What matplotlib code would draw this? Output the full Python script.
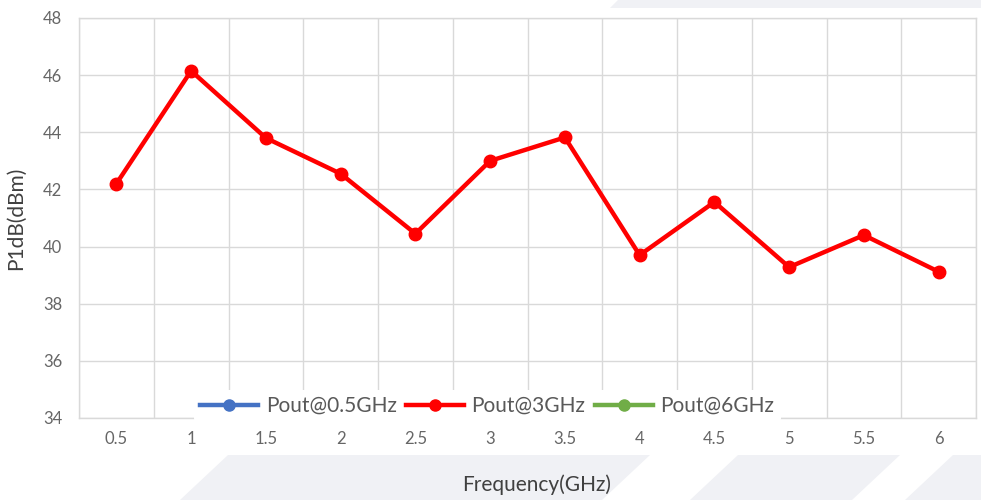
import matplotlib
matplotlib.use("Agg")
import matplotlib.pyplot as plt
from matplotlib.patches import Polygon
from matplotlib.lines import Line2D

# data
freq_labels = ["0.5", "1", "1.5", "2", "2.5", "3", "3.5", "4", "4.5", "5", "5.5", "6"]
pout_3ghz = [42.2, 46.15, 43.8, 42.55, 40.45, 43.0, 43.82, 39.7, 41.56, 39.28, 40.4, 39.12]
series_names = ["Pout@0.5GHz", "Pout@3GHz", "Pout@6GHz"]
series_colors = ["#4472c4", "#ff0000", "#70ad47"]

plt.rcParams['font.family'] = ['Lato', 'DejaVu Sans']

W, H = 981, 500
fig = plt.figure(figsize=(W / 100, H / 100), dpi=100)
fig.patch.set_facecolor("white")

# faint watermark stripes in the background (pixel coords -> figure coords)
def px_poly(pts, color="#f0f1f5"):
    xy = [(x / W, 1 - y / H) for x, y in pts]
    fig.patches.append(Polygon(xy, closed=True, transform=fig.transFigure,
                               facecolor=color, edgecolor="none", zorder=-5))

px_poly([(180, 500), (228, 455), (650, 455), (602, 500)])
px_poly([(690, 500), (738, 455), (900, 455), (852, 500)])
px_poly([(905, 500), (953, 455), (981, 455), (981, 500)])
px_poly([(610, 8), (618, 0), (981, 0), (981, 8)])

ax = fig.add_axes([79 / W, 1 - 418 / H, 897 / W, 400 / H])
ax.set_facecolor("white")

x = list(range(len(freq_labels)))
ax.plot(x, pout_3ghz, color=series_colors[1], lw=3.2, marker="o", ms=9,
        solid_joinstyle="round", zorder=3)

ax.set_xlim(-0.5, len(freq_labels) - 0.5)
ax.set_ylim(34, 48)
ax.set_yticks(range(34, 49, 2))
ax.set_xticks(x)
ax.set_xticklabels(freq_labels)
ax.set_xticks([i - 0.5 for i in range(len(freq_labels) + 1)], minor=True)

ax.grid(True, which="major", axis="y", color="#d9d9d9", lw=1)
ax.grid(True, which="minor", axis="x", color="#d9d9d9", lw=1)
ax.set_axisbelow(True)
for s in ax.spines.values():
    s.set_color("#d9d9d9")
    s.set_linewidth(1)
ax.tick_params(which="both", length=0)
ax.tick_params(axis="both", labelsize=12, labelcolor="#666666")
ax.tick_params(axis="x", pad=9)
ax.tick_params(axis="y", pad=12)

ax.set_xlabel("Frequency(GHz)", fontsize=15, color="#404040")
ax.xaxis.set_label_coords(0.51, -0.14)
ax.set_ylabel("P1dB(dBm)", fontsize=15, color="#404040", labelpad=12)

handles = [Line2D([0], [0], color=c, lw=3.2, marker="o", ms=8) for c in series_colors]
leg = ax.legend(handles, series_names, loc="center", bbox_to_anchor=(0.455, 0.03),
                ncol=3, frameon=True, fontsize=15, handlelength=2.8,
                columnspacing=0.45, handletextpad=0.35, borderpad=0.3)
leg.get_frame().set_facecolor("white")
leg.get_frame().set_edgecolor("none")
leg.get_frame().set_alpha(1)
for t in leg.get_texts():
    t.set_color("#595959")
leg.set_zorder(5)

fig.savefig("out.png", dpi=100)
